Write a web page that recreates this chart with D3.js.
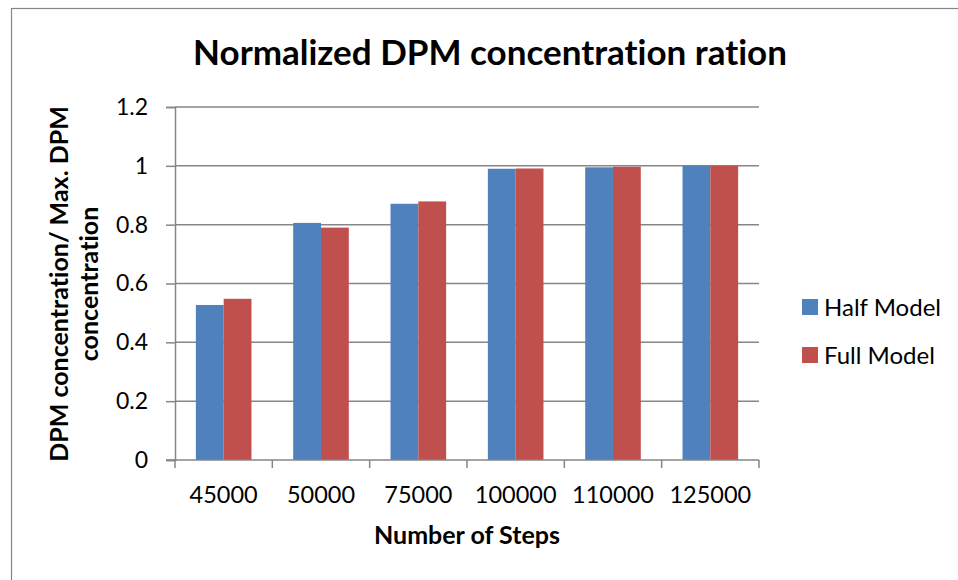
<!DOCTYPE html>
<html>
<head>
<meta charset="utf-8">
<script src="https://cdn.jsdelivr.net/npm/d3@7"></script>
<style>
  html, body { margin: 0; padding: 0; background: #fff; }
  svg { display: block; font-family: Lato, 'Open Sans', sans-serif; font-variant-ligatures: none; }
</style>
</head>
<body>
<script>
const categories = ['45000', '50000', '75000', '100000', '110000', '125000']
const halfModel = [0.527, 0.806, 0.871, 0.990, 0.995, 1.0]
const fullModel = [0.548, 0.790, 0.879, 0.991, 0.997, 1.0]
const seriesNames = ['Half Model', 'Full Model']
const yTicks = [0, 0.2, 0.4, 0.6, 0.8, 1, 1.2]

const COLORS = ['#4F81BD', '#C0504D']
const GRID = '#868686'

const width = 958
const height = 580
const plot = { left: 175, right: 759, top: 107, bottom: 460 }

const svg = d3.select('body').append('svg')
  .attr('width', width)
  .attr('height', height)

// Outer chart frame (runs off the right and bottom edges)
svg.append('rect')
  .attr('x', 11.5)
  .attr('y', 8.5)
  .attr('width', 1000)
  .attr('height', 1000)
  .attr('fill', 'none')
  .attr('stroke', GRID)
  .attr('stroke-width', 1.2)

// Scales
const xScale = d3.scaleBand()
  .domain(categories)
  .range([plot.left, plot.right])

const yScale = d3.scaleLinear()
  .domain([0, 1.2])
  .range([plot.bottom, plot.top])

// Excel-like gap width of 150%
const barWidth = xScale.bandwidth() / 3.5
const xSeries = d3.scaleBand()
  .domain(seriesNames)
  .range([barWidth * 0.75, barWidth * 2.75])

// Gridlines
svg.append('g')
  .selectAll('line')
  .data(yTicks.filter(d => d > 0))
  .enter().append('line')
  .attr('x1', plot.left)
  .attr('x2', plot.right)
  .attr('y1', d => yScale(d))
  .attr('y2', d => yScale(d))
  .attr('stroke', GRID)
  .attr('stroke-width', 1.5)

// Bars
const series = [halfModel, fullModel]
series.forEach((values, si) => {
  svg.append('g')
    .selectAll('rect')
    .data(values)
    .enter().append('rect')
    .attr('x', (d, i) => xScale(categories[i]) + xSeries(seriesNames[si]))
    .attr('y', d => yScale(d))
    .attr('width', xSeries.bandwidth())
    .attr('height', d => yScale(0) - yScale(d))
    .attr('fill', COLORS[si])
})

// Y axis
const yAxis = svg.append('g')
  .attr('transform', `translate(${plot.left}, 0)`)
  .call(d3.axisLeft(yScale).tickValues(yTicks).tickSize(9).tickPadding(18).tickFormat(d3.format('')))
yAxis.select('.domain').attr('stroke', GRID).attr('stroke-width', 1.5)
yAxis.selectAll('.tick line').attr('stroke', GRID).attr('stroke-width', 1.5)
yAxis.selectAll('.tick text')
  .attr('fill', '#000')
  .style('font-size', '23px')
  .style('font-family', 'Lato, sans-serif')

// X axis: ticks on category boundaries
const xBounds = categories.map(c => xScale(c)).concat([xScale.range()[1]])
const xAxis = svg.append('g')
  .attr('transform', `translate(0, ${plot.bottom})`)
xAxis.append('line')
  .attr('x1', plot.left - 9)
  .attr('x2', plot.right)
  .attr('stroke', GRID)
  .attr('stroke-width', 1.5)
xAxis.selectAll('.xtick')
  .data(xBounds)
  .enter().append('line')
  .attr('x1', d => d)
  .attr('x2', d => d)
  .attr('y1', 0)
  .attr('y2', 8)
  .attr('stroke', GRID)
  .attr('stroke-width', 1.5)
xAxis.selectAll('.xlabel')
  .data(categories)
  .enter().append('text')
  .attr('x', d => xScale(d) + xScale.bandwidth() / 2)
  .attr('y', 43)
  .attr('text-anchor', 'middle')
  .attr('fill', '#000')
  .style('font-size', '23.5px')
  .text(d => d)

// Title
svg.append('text')
  .attr('x', 490)
  .attr('y', 65)
  .attr('text-anchor', 'middle')
  .style('font-size', '35px')
  .style('font-weight', 'bold')
  .text('Normalized DPM concentration ration')

// X title
svg.append('text')
  .attr('x', 467)
  .attr('y', 544)
  .attr('text-anchor', 'middle')
  .style('font-size', '25px')
  .style('font-weight', 'bold')
  .text('Number of Steps')

// Y title (two lines)
const yTitle = svg.append('text')
  .attr('transform', 'translate(68, 284) rotate(-90)')
  .attr('text-anchor', 'middle')
  .style('font-size', '25px')
  .style('font-weight', 'bold')
yTitle.append('tspan').attr('x', 0).attr('y', 0).text('DPM concentration/ Max. DPM')
yTitle.append('tspan').attr('x', 0).attr('y', 30).text('concentration')

// Legend
const legend = svg.append('g')
  .attr('transform', 'translate(802, 299)')
const legendItems = legend.selectAll('g')
  .data(seriesNames)
  .enter().append('g')
  .attr('transform', (d, i) => `translate(0, ${i * 48})`)
legendItems.append('rect')
  .attr('width', 16)
  .attr('height', 16)
  .attr('fill', (d, i) => COLORS[i])
legendItems.append('text')
  .attr('x', 22)
  .attr('y', 8)
  .attr('dy', '0.36em')
  .style('font-size', '24px')
  .text(d => d)
</script>
</body>
</html>
